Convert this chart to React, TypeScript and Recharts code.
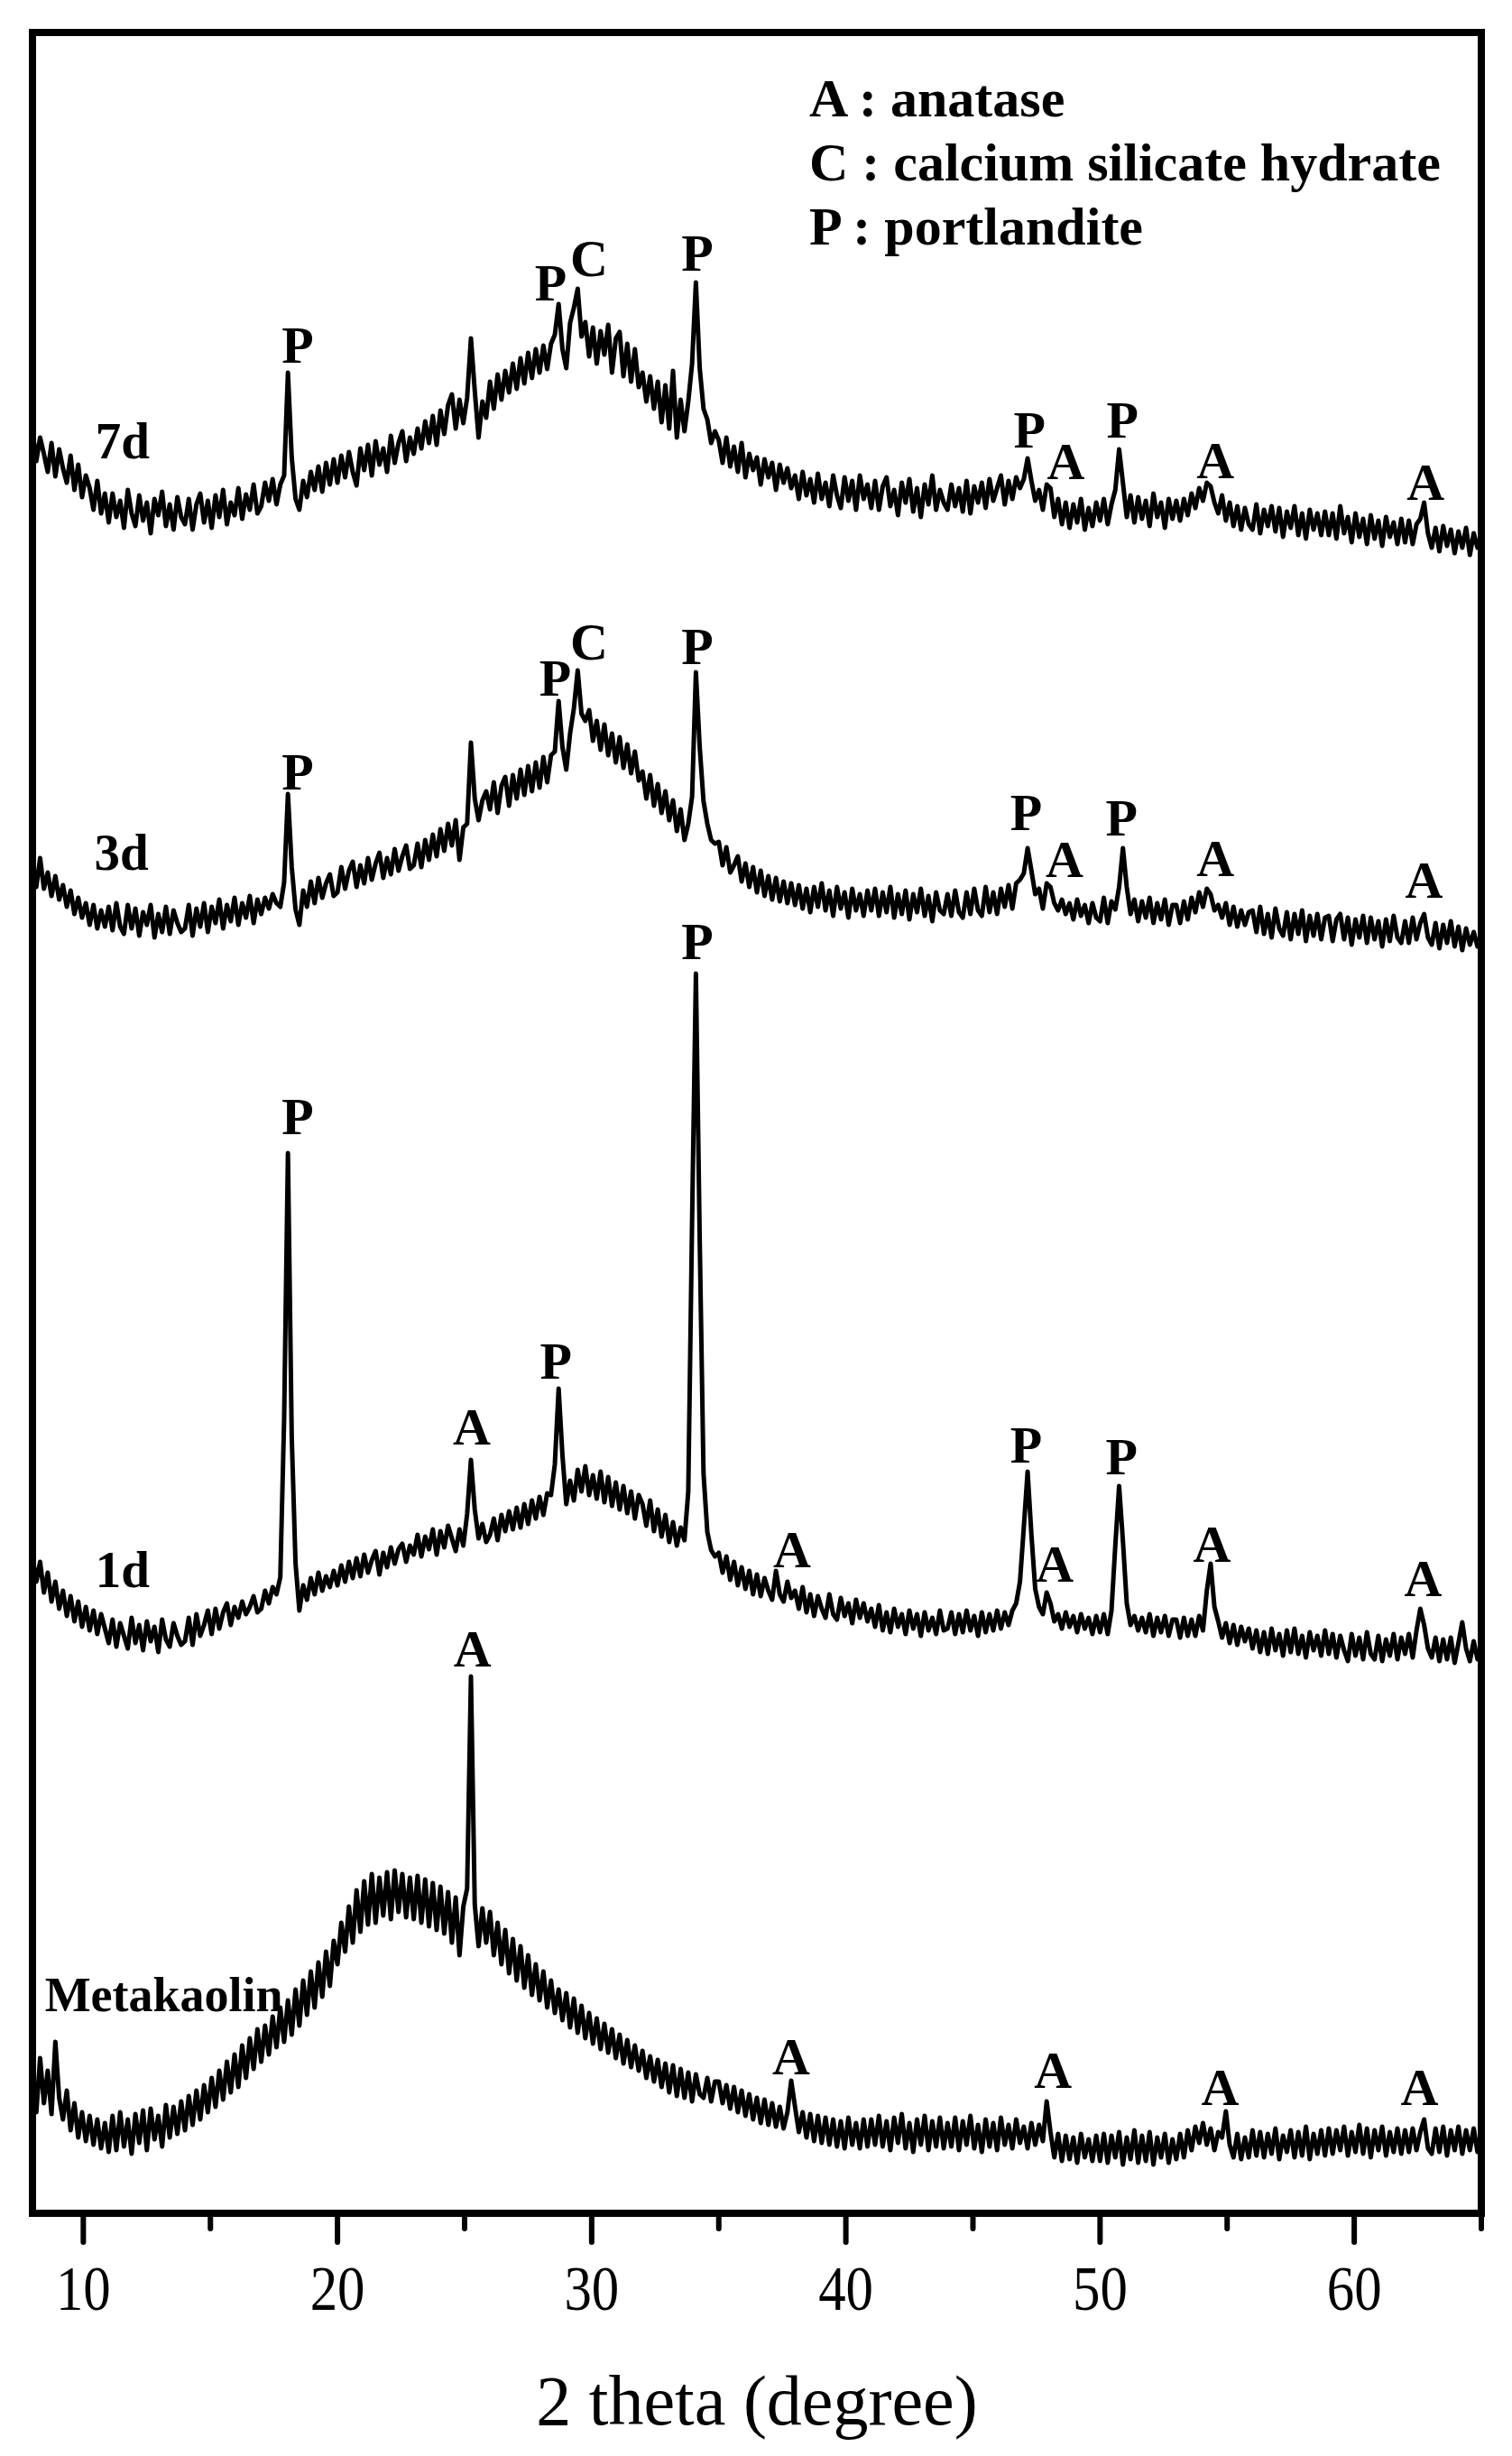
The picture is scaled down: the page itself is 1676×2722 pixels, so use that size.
import { LineChart, Line, XAxis, YAxis, ReferenceDot, ReferenceArea } from "recharts";

// XRD patterns, 2theta from 8 to 65 deg in 0.15 deg steps.
// Intensities (arbitrary units, curves already stacked).
const START = 8;
const STEP = 0.15;

const day7 = [
  1976, 1942, 1968, 1950, 1930, 1962, 1925, 1955, 1934, 1918, 1948, 1910, 1938, 1902, 1926, 1912, 1888, 1920, 1884, 1906,
  1874, 1906, 1880, 1898, 1868, 1910, 1884, 1870, 1904, 1876, 1896, 1862, 1900, 1882, 1908, 1870, 1894, 1866, 1902, 1880,
  1872, 1900, 1866, 1894, 1906, 1874, 1898, 1868, 1904, 1880, 1910, 1872, 1896, 1882, 1912, 1878, 1905, 1888, 1916, 1884,
  1892, 1918, 1898, 1922, 1894, 1916, 1926, 2040, 1946, 1900, 1888, 1920, 1902, 1930, 1910, 1936, 1908, 1940, 1916, 1944,
  1918, 1948, 1924, 1952, 1930, 1915, 1956, 1932, 1960, 1926, 1964, 1938, 1956, 1930, 1970, 1940, 1962, 1975, 1942, 1968,
  1950, 1978, 1956, 1986, 1962, 1992, 1960, 1998, 1972, 2004, 2016, 1978, 2010, 1984, 2012, 2078, 2020, 1968, 2008, 1990,
  2030, 2000, 2038, 2010, 2042, 2018, 2050, 2022, 2056, 2028, 2062, 2034, 2066, 2040, 2070, 2044, 2072, 2082, 2116, 2066,
  2045, 2095, 2112, 2133, 2080, 2096, 2058, 2090, 2050, 2086, 2060, 2093, 2040, 2078, 2085, 2036, 2072, 2030, 2066, 2024,
  2040, 2008, 2036, 2000, 2030, 1985, 2026, 1978, 2042, 1968, 2010, 1975, 2008, 2050, 2140, 2045, 2000, 1988, 1962, 1975,
  1965, 1940, 1968, 1936, 1958, 1930, 1962, 1924, 1950, 1932, 1946, 1916, 1944, 1924, 1940, 1910, 1938, 1918, 1934, 1912,
  1926, 1900, 1930, 1904, 1922, 1896, 1928, 1900, 1918, 1892, 1926, 1904, 1890, 1924, 1898, 1920, 1888, 1926, 1900, 1916,
  1890, 1920, 1888, 1914, 1924, 1892, 1910, 1882, 1918, 1896, 1922, 1886, 1912, 1880, 1916, 1894, 1926, 1888, 1910, 1896,
  1888, 1916, 1892, 1912, 1886, 1920, 1884, 1914, 1896, 1918, 1890, 1922, 1898, 1912, 1926, 1894, 1920, 1900, 1924, 1912,
  1922, 1945, 1920, 1898, 1910, 1888, 1916, 1912, 1880, 1900, 1872, 1896, 1868, 1894, 1874, 1900, 1866, 1890, 1870, 1896,
  1876, 1900, 1872, 1894, 1910, 1955, 1918, 1880, 1904, 1874, 1902, 1878, 1898, 1870, 1906, 1880, 1896, 1868, 1900, 1878,
  1898, 1876, 1900, 1882, 1906, 1890, 1912, 1898, 1918, 1914, 1896, 1884, 1904, 1876, 1896, 1870, 1892, 1866, 1890, 1872,
  1866, 1894, 1862, 1888, 1870, 1892, 1864, 1890, 1858, 1886, 1868, 1892, 1860, 1884, 1856, 1888, 1866, 1884, 1860, 1886,
  1860, 1884, 1856, 1892, 1862, 1880, 1852, 1884, 1858, 1878, 1850, 1882, 1856, 1876, 1848, 1880, 1858, 1874, 1850, 1878,
  1852, 1876, 1850, 1872, 1878, 1896, 1862, 1846, 1868, 1842, 1870, 1848, 1866, 1840, 1864, 1846, 1868, 1838, 1862, 1846,
  1855,
];

const day3 = [
  1500, 1470, 1502, 1468, 1486, 1460, 1482, 1456, 1472, 1448, 1466, 1440, 1458, 1436, 1452, 1428, 1450, 1424, 1444, 1426,
  1448, 1422, 1452, 1426, 1418, 1450, 1424, 1446, 1416, 1442, 1428, 1450, 1414, 1440, 1420, 1448, 1418, 1444, 1430, 1420,
  1424, 1450, 1416, 1446, 1426, 1452, 1420, 1448, 1430, 1456, 1424, 1450, 1432, 1458, 1428, 1452, 1436, 1460, 1430, 1456,
  1440, 1458, 1446, 1462, 1452, 1448, 1475, 1573, 1492, 1445, 1428, 1466, 1448, 1476, 1452, 1480, 1458, 1474, 1484, 1460,
  1464, 1492, 1468, 1488, 1498, 1470, 1494, 1474, 1502, 1478, 1496, 1508, 1480, 1502, 1484, 1512, 1488, 1504, 1516, 1490,
  1494, 1518, 1492, 1522, 1500, 1528, 1504, 1534, 1510, 1540, 1516, 1544, 1500, 1536, 1540, 1630, 1568, 1544, 1566, 1576,
  1556, 1586, 1552, 1582, 1592, 1560, 1594, 1568, 1600, 1572, 1604, 1576, 1608, 1580, 1614, 1586, 1616, 1620, 1676, 1625,
  1600, 1640, 1668, 1710, 1662, 1654, 1666, 1632, 1654, 1622, 1650, 1616, 1640, 1608, 1636, 1602, 1628, 1596, 1620, 1588,
  1598, 1568, 1594, 1560, 1584, 1552, 1576, 1544, 1566, 1532, 1556, 1522, 1540, 1570, 1708, 1625, 1565, 1540, 1522, 1518,
  1520, 1494, 1514, 1486, 1494, 1504, 1476, 1496, 1470, 1492, 1464, 1488, 1460, 1482, 1456, 1480, 1454, 1476, 1452, 1474,
  1450, 1472, 1446, 1468, 1442, 1470, 1448, 1474, 1444, 1466, 1438, 1470, 1446, 1464, 1436, 1468, 1444, 1462, 1438, 1466,
  1444, 1468, 1438, 1464, 1442, 1470, 1436, 1462, 1440, 1466, 1434, 1462, 1442, 1468, 1438, 1460, 1432, 1464, 1444, 1440,
  1462, 1438, 1466, 1442, 1436, 1464, 1440, 1468, 1444, 1438, 1470, 1442, 1464, 1440, 1468, 1448, 1472, 1446, 1474, 1478,
  1485, 1513, 1488, 1462, 1468, 1446, 1474, 1470, 1452, 1444, 1456, 1440, 1452, 1434, 1456, 1438, 1450, 1430, 1452, 1436,
  1432, 1458, 1430, 1454, 1445, 1470, 1513, 1470, 1440, 1456, 1432, 1454, 1436, 1458, 1430, 1452, 1434, 1456, 1428, 1450,
  1450, 1430, 1454, 1434, 1458, 1442, 1464, 1448, 1468, 1462, 1444, 1450, 1436, 1452, 1428, 1448, 1426, 1444, 1428, 1442,
  1444, 1420, 1448, 1418, 1440, 1414, 1446, 1424, 1416, 1442, 1412, 1440, 1418, 1444, 1410, 1438, 1416, 1440, 1412, 1436,
  1438, 1410, 1434, 1440, 1412, 1436, 1406, 1434, 1414, 1438, 1408, 1436, 1412, 1432, 1404, 1434, 1410, 1438, 1414, 1408,
  1432, 1408, 1436, 1412, 1430, 1440, 1414, 1406, 1430, 1402, 1428, 1408, 1432, 1404, 1426, 1400, 1424, 1406, 1420, 1404,
  1414,
];

const day1 = [
  728, 700, 722, 688, 710, 678, 700, 670, 690, 662, 684, 656, 678, 650, 672, 646, 668, 642, 664, 648,
  632, 658, 628, 654, 640, 626, 660, 632, 652, 624, 656, 634, 650, 622, 658, 636, 628, 654, 640, 630,
  634, 660, 630, 664, 640, 652, 668, 642, 670, 648, 666, 676, 652, 672, 660, 678, 664, 672, 684, 666,
  670, 690, 676, 694, 686, 705, 880, 1175, 860, 720, 668, 696, 680, 704, 686, 710, 690, 706, 694, 712,
  696, 718, 700, 722, 704, 726, 706, 730, 710, 724, 734, 708, 732, 716, 738, 720, 736, 742, 722, 740,
  730, 752, 728, 750, 736, 758, 730, 756, 738, 762, 748, 734, 758, 740, 775, 835, 780, 748, 764, 744,
  752, 770, 746, 774, 756, 778, 758, 782, 760, 786, 764, 790, 770, 794, 774, 798, 796, 830, 914, 840,
  786, 812, 790, 824, 800, 828, 796, 818, 792, 822, 788, 816, 784, 810, 780, 806, 776, 800, 770, 796,
  786, 762, 790, 756, 780, 750, 774, 744, 766, 740, 760, 746, 800, 1100, 1374, 1080, 820, 755, 735, 728,
  732, 710, 728, 702, 722, 696, 716, 692, 712, 686, 708, 684, 704, 690, 680, 712, 686, 678, 700, 682,
  690, 670, 694, 666, 686, 662, 684, 670, 660, 686, 664, 658, 682, 662, 676, 654, 680, 660, 676, 656,
  670, 650, 674, 646, 666, 644, 670, 650, 664, 642, 668, 648, 664, 640, 666, 646, 660, 642, 668, 646,
  648, 666, 642, 664, 644, 668, 646, 662, 640, 666, 644, 664, 646, 668, 648, 666, 652, 668, 676, 700,
  760, 822, 752, 692, 672, 664, 688, 676, 656, 664, 648, 666, 650, 662, 644, 664, 648, 660, 642, 662,
  644, 664, 642, 668, 740, 806, 745, 676, 652, 662, 646, 660, 644, 664, 640, 660, 644, 662, 640, 658,
  658, 638, 660, 640, 658, 640, 662, 646, 690, 720, 672, 656, 638, 654, 632, 652, 630, 650, 634, 648,
  626, 646, 622, 644, 620, 648, 624, 642, 618, 646, 622, 648, 620, 640, 616, 644, 624, 640, 618, 646,
  620, 642, 616, 640, 624, 612, 642, 618, 638, 614, 644, 620, 614, 640, 612, 636, 618, 642, 614, 638,
  620, 642, 616, 646, 670, 652, 626, 616, 638, 612, 636, 614, 638, 610, 632, 655, 626, 612, 634, 614,
  624,
];

const metakaolin = [
  150, 112, 172, 122, 158, 110, 190, 128, 104, 136, 92, 122, 84, 112, 80, 108, 76, 104, 72, 100,
  68, 108, 70, 112, 74, 104, 66, 110, 78, 114, 70, 116, 82, 108, 74, 120, 84, 118, 88, 124,
  92, 130, 98, 136, 104, 142, 112, 150, 118, 158, 126, 168, 134, 176, 140, 186, 150, 194, 160, 204,
  168, 208, 176, 218, 184, 228, 190, 236, 198, 248, 208, 258, 220, 268, 228, 278, 240, 290, 252, 302,
  276, 322, 290, 340, 300, 358, 312, 368, 320, 376, 322, 372, 330, 378, 326, 380, 334, 376, 328, 372,
  326, 374, 322, 370, 318, 366, 314, 362, 310, 356, 300, 350, 286, 340, 360, 595, 342, 296, 338, 300,
  334, 286, 322, 276, 314, 266, 304, 258, 296, 250, 286, 242, 276, 236, 268, 228, 258, 222, 248, 214,
  244, 206, 238, 200, 230, 194, 222, 188, 216, 182, 210, 178, 204, 172, 198, 166, 192, 162, 186, 158,
  180, 150, 174, 146, 170, 140, 166, 134, 164, 130, 160, 128, 156, 124, 154, 132, 128, 150, 124, 146,
  146, 122, 142, 116, 140, 112, 136, 108, 132, 104, 128, 100, 126, 98, 122, 96, 118, 94, 112, 147,
  118, 90, 112, 84, 110, 80, 108, 78, 106, 76, 104, 74, 102, 72, 106, 76, 100, 72, 104, 74,
  104, 76, 108, 74, 102, 70, 106, 78, 110, 72, 100, 68, 104, 76, 108, 70, 102, 74, 106, 72,
  100, 74, 106, 70, 102, 76, 108, 72, 98, 68, 104, 74, 100, 70, 106, 76, 98, 72, 104, 78,
  96, 72, 100, 76, 98, 80, 124, 90, 62, 88, 58, 86, 60, 84, 56, 88, 62, 82, 58, 86,
  58, 88, 56, 86, 62, 90, 54, 84, 60, 92, 56, 86, 58, 90, 54, 84, 62, 88, 56, 82,
  60, 88, 62, 92, 70, 96, 78, 100, 76, 94, 70, 90, 84, 113, 76, 62, 88, 60, 84, 62,
  92, 64, 90, 62, 88, 66, 94, 60, 86, 68, 92, 62, 90, 64, 96, 60, 88, 66, 92, 64,
  94, 66, 92, 70, 96, 64, 90, 68, 98, 66, 94, 62, 92, 70, 96, 64, 90, 68, 94, 66,
  92, 68, 94, 70, 90, 104, 72, 66, 94, 68, 96, 64, 92, 70, 96, 66, 92, 70, 94, 68,
  82,
];

const twoTheta = day7.map((_, i) => Number((START + i * STEP).toFixed(2)));

const xTicks = [10, 15, 20, 25, 30, 35, 40, 45, 50, 55, 60, 65];

// phase marks: [2theta, height, letter]
const peakMarks: [number, number, string][] = [
  [18.43, 2070, "P"], [28.39, 2139, "P"], [29.9, 2166, "C"], [34.16, 2172, "P"],
  [47.23, 1976, "P"], [48.65, 1941, "A"], [50.88, 1987, "P"], [54.54, 1942, "A"], [62.81, 1918, "A"],
  [18.43, 1597, "P"], [28.57, 1701, "P"], [29.9, 1741, "C"], [34.16, 1736, "P"],
  [47.09, 1552, "P"], [48.6, 1500, "A"], [50.85, 1546, "P"], [54.54, 1501, "A"], [62.74, 1477, "A"],
  [18.43, 1215, "P"], [25.28, 871, "A"], [28.59, 944, "P"], [34.16, 1409, "P"], [37.88, 735, "A"],
  [47.09, 851, "P"], [48.22, 719, "A"], [50.85, 838, "P"], [54.4, 741, "A"], [62.71, 703, "A"],
  [25.31, 625, "A"], [37.85, 173, "A"], [48.15, 158, "A"], [54.72, 139, "A"], [62.57, 139, "A"],
];

const sampleNames: [number, number, string][] = [
  [11.54, 1964, "7d"],
  [11.5, 1508, "3d"],
  [11.54, 713, "1d"],
  [13.17, 242, "Metakaolin"],
];

const legendLines = ["A : anatase", "C : calcium silicate hydrate", "P : portlandite"];

const SERIF = '"Liberation Serif", "Times New Roman", serif';

const rows = twoTheta.map((t, i) => ({
  t,
  day7: day7[i],
  day3: day3[i],
  day1: day1[i],
  metakaolin: metakaolin[i],
}));

function XTick(props: any) {
  const { x, y, payload } = props;
  const major = payload.value % 10 === 0;
  return (
    <g>
      <line
        x1={x}
        x2={x}
        y1={y}
        y2={y + (major ? 32 : 17)}
        stroke="#000"
        strokeWidth={6}
        strokeLinecap="round"
      />
      {major && (
        <text
          transform={`translate(${x},${y + 107}) scale(0.95,1.1)`}
          textAnchor="middle"
          fontFamily={SERIF}
          fontSize={64}
          fill="#000"
        >
          {payload.value}
        </text>
      )}
    </g>
  );
}

function tag(text: string, size: number) {
  return (lp: any) => {
    const vb = lp.viewBox || {};
    const cx = (vb.x ?? 0) + (vb.width ?? 0) / 2;
    const cy = (vb.y ?? 0) + (vb.height ?? 0) / 2;
    return (
      <text
        x={cx}
        y={cy + size * 0.33}
        textAnchor="middle"
        fontFamily={SERIF}
        fontWeight="bold"
        fontSize={size}
        fill="#000"
      >
        {text}
      </text>
    );
  };
}

function AxisTitle(props: any) {
  const vb = props.viewBox || { x: 36, y: 2453, width: 1606 };
  return (
    <text x={vb.x + vb.width / 2} y={vb.y + 234} textAnchor="middle" fontFamily={SERIF} fontSize={78} fill="#000">
      2 theta (degree)
    </text>
  );
}

export default function App() {
  return (
    <div style={{ position: "absolute", left: 0, top: 0, width: 1676, height: 2722, background: "#fff" }}>
      <LineChart width={1676} height={2722} data={rows} margin={{ top: 36, right: 34, bottom: 0, left: 36 }}>
        <XAxis
          dataKey="t"
          type="number"
          domain={[8, 65]}
          allowDataOverflow
          ticks={xTicks}
          interval={0}
          height={269}
          tickSize={0}
          tickMargin={0}
          tickLine={false}
          tick={<XTick />}
          axisLine={{ stroke: "#000", strokeWidth: 8 }}
          label={{ content: (p: any) => <AxisTitle {...p} /> }}
        />
        <YAxis type="number" domain={[0, 2417]} allowDataOverflow hide />
        {(["day7", "day3", "day1", "metakaolin"] as const).map((k) => (
          <Line
            key={k}
            type="linear"
            dataKey={k}
            stroke="#000"
            strokeWidth={5}
            strokeLinejoin="round"
            dot={false}
            activeDot={false}
            isAnimationActive={false}
          />
        ))}
        <ReferenceArea
          x1={8}
          x2={65}
          y1={0}
          y2={2417}
          ifOverflow="visible"
          fill="none"
          fillOpacity={0}
          stroke="#000"
          strokeWidth={8}
          strokeLinejoin="miter"
        />
        {peakMarks.map(([t, v, s], i) => (
          <ReferenceDot key={"p" + i} x={t} y={v} r={0} fill="none" stroke="none" ifOverflow="visible" label={tag(s, 58)} />
        ))}
        {sampleNames.map(([t, v, s], i) => (
          <ReferenceDot
            key={"s" + i}
            x={t}
            y={v}
            r={0}
            fill="none"
            stroke="none"
            ifOverflow="visible"
            label={tag(s, s === "Metakaolin" ? 54 : 57)}
          />
        ))}
      </LineChart>
      <svg width={1676} height={300} style={{ position: "absolute", left: 0, top: 0, pointerEvents: "none" }}>
        {legendLines.map((line, i) => (
          <text key={line} x={897} y={129 + i * 71} fontFamily={SERIF} fontWeight="bold" fontSize={60} fill="#000">
            {line}
          </text>
        ))}
      </svg>
    </div>
  );
}
